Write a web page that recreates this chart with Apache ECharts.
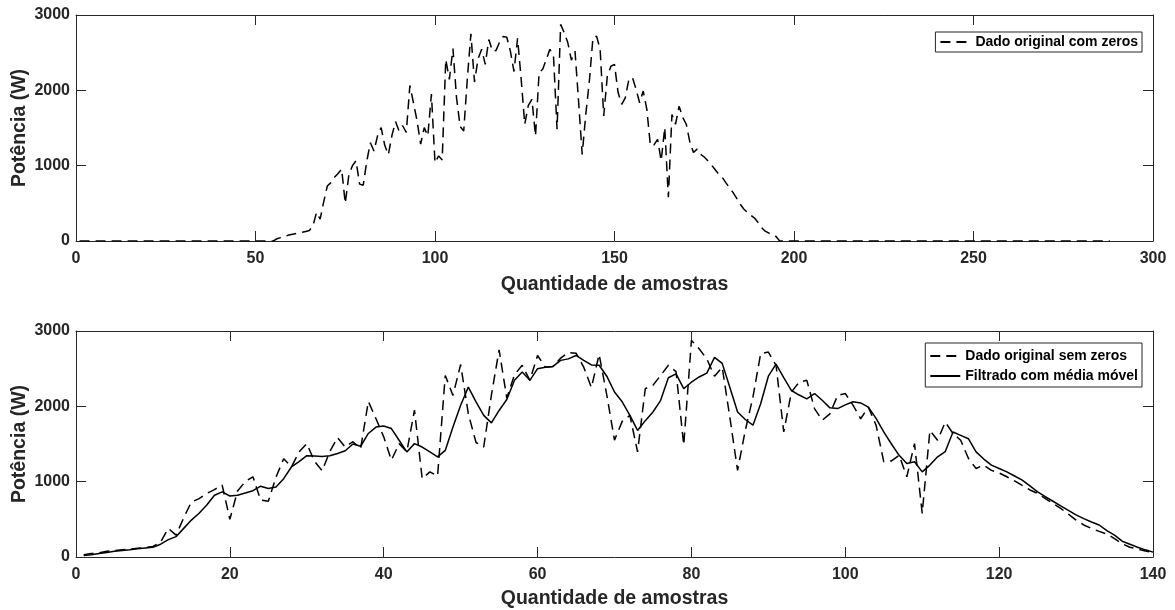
<!DOCTYPE html>
<html><head><meta charset="utf-8">
<script src="https://cdn.jsdelivr.net/npm/echarts@6/dist/echarts.min.js"></script>
<style>html,body{margin:0;padding:0;background:#fff}#c{width:1175px;height:610px}</style>
</head><body><div id="c"></div><script>
// Dado original sem zeros (amostras 1..140)
const semZeros = [
  30,45,55,75,85,95,105,115,125,140,
  200,380,290,520,730,775,845,895,955,500,
  875,1000,1065,755,740,1060,1305,1195,1395,1505,
  1270,1145,1400,1585,1460,1530,1440,2065,1835,1595,
  1285,1505,1395,1950,1040,1130,1075,2410,2145,2555,
  1900,1520,1460,2150,2750,2110,2420,2545,2345,2675,
  2520,2530,2640,2715,2705,2520,2250,2690,2150,1550,
  1800,1880,1395,2235,2280,2410,2545,2460,1485,2875,
  2765,2630,2400,2520,1850,1150,1680,2125,2700,2720,
  2545,1660,2190,2320,2345,1970,1815,1900,2145,2170,
  2015,1835,1990,1750,1265,1275,1350,1065,1505,580,
  1680,1550,1790,1640,1550,1310,1175,1220,1150,1115,
  1065,1010,950,890,845,775,710,645,570,490,
  425,380,340,305,245,175,130,105,80,60
];
// Filtrado com média móvel (amostras 1..140)
const filtrado = [
  20,30,45,60,75,85,95,110,120,130,
  170,230,270,380,490,580,690,820,865,810,
  820,850,880,940,910,930,1040,1195,1265,1345,
  1340,1335,1345,1375,1410,1500,1470,1640,1725,1740,
  1705,1550,1395,1505,1460,1395,1330,1415,1725,2015,
  2255,2060,1880,1780,1945,2090,2345,2455,2345,2500,
  2520,2530,2610,2630,2675,2610,2550,2545,2400,2190,
  2060,1880,1680,1810,1925,2080,2380,2430,2235,2320,
  2390,2440,2650,2570,2250,1925,1825,1750,2035,2400,
  2560,2380,2210,2150,2100,2170,2080,1980,1970,2020,
  2060,2045,1990,1840,1660,1500,1350,1240,1265,1130,
  1220,1330,1400,1660,1615,1570,1395,1300,1220,1175,
  1130,1075,1020,945,865,800,740,680,620,560,
  510,465,425,350,290,210,170,130,95,65
];
// zeros before / after the non-zero part in the full-day record
const zerosAntes = 55;
const totalAmostras = 288;

const topXTicks = [0, 50, 100, 150, 200, 250, 300];
const botXTicks = [0, 20, 40, 60, 80, 100, 120, 140];
const yTicks = [0, 1000, 2000, 3000];

const nomeX = 'Quantidade de amostras';
const nomeY = 'Potência (W)';
const nomeCom = 'Dado original com zeros';
const nomeSem = 'Dado original sem zeros';
const nomeFilt = 'Filtrado com média móvel';

// build series data
const comZerosData = [];
for (let i = 1; i <= totalAmostras; i++) {
  const k = i - zerosAntes - 1;
  comZerosData.push([i, (k >= 0 && k < semZeros.length) ? semZeros[k] : 0]);
}
const semData = semZeros.map((v, i) => [i + 1, v]);
const filtData = filtrado.map((v, i) => [i + 1, v]);

const FONT = "'Liberation Sans', Arial, sans-serif";
const AX = '#262626';

function xAxis(grid, ticks, pos, main, gap) {
  return {
    type: 'value', gridIndex: grid, position: pos,
    min: ticks[0], max: ticks[ticks.length - 1], interval: ticks[1] - ticks[0],
    name: main ? nomeX : '', nameLocation: 'middle', nameGap: gap,
    nameTextStyle: { fontFamily: FONT, fontWeight: 'bold', fontSize: 19.5, color: AX },
    axisLine: { show: true, onZero: false, lineStyle: { color: AX, width: 1 } },
    axisTick: { show: true, inside: true, length: 10, lineStyle: { color: AX, width: 1 } },
    axisLabel: { show: main, margin: 10, fontFamily: FONT, fontWeight: 'bold', fontSize: 16, color: AX,
      formatter: v => String(v) },
    splitLine: { show: false }
  };
}
function yAxis(grid, pos, main) {
  return {
    type: 'value', gridIndex: grid, position: pos,
    min: yTicks[0], max: yTicks[yTicks.length - 1], interval: yTicks[1] - yTicks[0],
    name: main ? nomeY : '', nameLocation: 'middle', nameGap: 46, nameMoveOverlap: false,
    nameTextStyle: { fontFamily: FONT, fontWeight: 'bold', fontSize: 19.5, color: AX },
    axisLine: { show: true, onZero: false, lineStyle: { color: AX, width: 1 } },
    axisTick: { show: true, inside: true, length: 10, lineStyle: { color: AX, width: 1 } },
    axisLabel: { show: main, margin: 6, fontFamily: FONT, fontWeight: 'bold', fontSize: 16, color: AX,
      formatter: v => String(v) },
    splitLine: { show: false }
  };
}

const legendBase = {
  orient: 'vertical', right: 33, backgroundColor: '#fff',
  borderColor: AX, borderWidth: 1, itemWidth: 30, itemHeight: 14, itemGap: 6,
  itemStyle: { opacity: 0 },
  textStyle: { fontFamily: FONT, fontWeight: 'bold', fontSize: 14, lineHeight: 14, color: '#000' },
  selectedMode: false
};

const chart = echarts.init(document.getElementById('c'), null, { renderer: 'canvas' });
chart.setOption({
  animation: false,
  backgroundColor: '#fff',
  grid: [
    { left: 76, right: 22, top: 15, height: 226, containLabel: false, outerBoundsMode: 'none' },
    { left: 76, right: 22, top: 331, height: 226, containLabel: false, outerBoundsMode: 'none' }
  ],
  xAxis: [
    xAxis(0, topXTicks, 'bottom', true, 34), xAxis(0, topXTicks, 'top', false, 0),
    xAxis(1, botXTicks, 'bottom', true, 32), xAxis(1, botXTicks, 'top', false, 0)
  ],
  yAxis: [
    yAxis(0, 'left', true), yAxis(0, 'right', false),
    yAxis(1, 'left', true), yAxis(1, 'right', false)
  ],
  legend: [
    Object.assign({}, legendBase, { top: 32, padding: [3, 4, 3, 4], data: [nomeCom] }),
    Object.assign({}, legendBase, { top: 343, padding: [6, 4, 4, 4], data: [nomeSem, nomeFilt] })
  ],
  series: [
    { name: nomeCom, type: 'line', xAxisIndex: 0, yAxisIndex: 0, data: comZerosData,
      symbol: 'none', lineStyle: { color: '#000', width: 1.5, type: [10, 6] }, itemStyle: { color: '#000' } },
    { name: nomeSem, type: 'line', xAxisIndex: 2, yAxisIndex: 2, data: semData,
      symbol: 'none', lineStyle: { color: '#000', width: 1.5, type: [10, 6] }, itemStyle: { color: '#000' } },
    { name: nomeFilt, type: 'line', xAxisIndex: 2, yAxisIndex: 2, data: filtData,
      symbol: 'none', lineStyle: { color: '#000', width: 1.5, type: 'solid' }, itemStyle: { color: '#000' } }
  ]
});
</script></body></html>
